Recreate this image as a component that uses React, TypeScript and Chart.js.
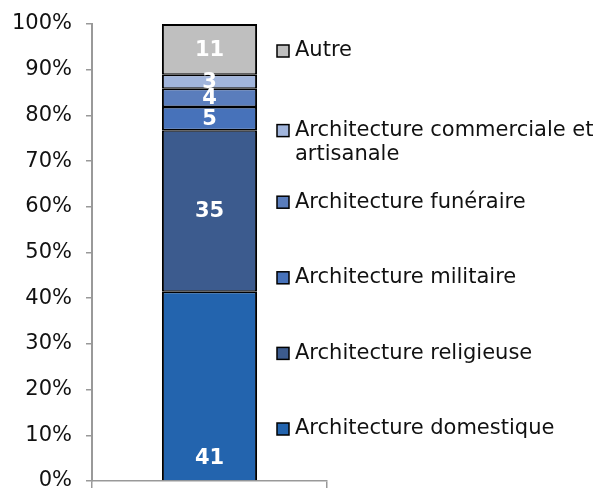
import React, { useEffect, useRef } from "react";
import { Chart, registerables } from "chart.js";

Chart.register(...registerables);

const categories = [""];
const seriesNames = [
  "Architecture domestique",
  "Architecture religieuse",
  "Architecture militaire",
  "Architecture funéraire",
  "Architecture commerciale et artisanale",
  "Autre",
];
const seriesValues = [41, 35, 5, 4, 3, 11];
const seriesColors = ["#2364AE", "#3C5B8E", "#4772BA", "#5A7DBC", "#A1B5DC", "#BFBFBF"];
const labelPlacement = ["base", "center", "center", "center", "center", "center"];
const yTicks = [0, 10, 20, 30, 40, 50, 60, 70, 80, 90, 100];

const FONT = "'DejaVu Sans', Verdana, sans-serif";

const total = seriesValues.reduce((a, b) => a + b, 0);

const dataLabelPlugin = {
  id: "dataLabels",
  afterDatasetsDraw(chart: any) {
    const ctx = chart.ctx;
    ctx.save();
    ctx.font = `bold 21px ${FONT}`;
    ctx.fillStyle = "#ffffff";
    ctx.textAlign = "center";
    ctx.textBaseline = "middle";
    chart.data.datasets.forEach((ds: any, i: number) => {
      const meta = chart.getDatasetMeta(i);
      meta.data.forEach((el: any) => {
        const p = el.getProps(["x", "y", "base"], true);
        const y = labelPlacement[i] === "base" ? p.base - 22 : (p.y + p.base) / 2 + 1;
        ctx.fillText(String(ds.rawValue), p.x, y);
      });
    });
    ctx.restore();
  },
};

const legendPlugin = {
  id: "customLegend",
  afterDraw(chart: any) {
    const ctx = chart.ctx;
    const area = chart.chartArea;
    ctx.save();
    ctx.font = `21px ${FONT}`;
    ctx.textBaseline = "middle";
    ctx.textAlign = "left";
    const boxX = 277;
    const textX = 295;
    const maxW = 598 - textX - 2;
    const firstY = area.top + 27;
    const lastY = area.bottom - 52;
    const n = chart.data.datasets.length;
    const step = (lastY - firstY) / (n - 1);
    const ordered = chart.data.datasets.map((d: any, i: number) => i).reverse();
    ordered.forEach((dsIndex: number, k: number) => {
      const ds = chart.data.datasets[dsIndex];
      const words = String(ds.label).split(" ");
      const lines: string[] = [];
      let cur = "";
      words.forEach((w) => {
        const t = cur ? cur + " " + w : w;
        if (ctx.measureText(t).width > maxW && cur) {
          lines.push(cur);
          cur = w;
        } else cur = t;
      });
      if (cur) lines.push(cur);
      const y = firstY + k * step + (lines.length - 1) * 4;
      ctx.fillStyle = ds.backgroundColor;
      ctx.fillRect(boxX, y - 6, 12, 12);
      ctx.strokeStyle = "#000";
      ctx.lineWidth = 1.5;
      ctx.strokeRect(boxX, y - 6, 12, 12);
      ctx.fillStyle = "#111";
      lines.forEach((l, j) => ctx.fillText(l, textX, y + j * 24));
    });
    ctx.restore();
  },
};

export default function App() {
  const ref = useRef<HTMLCanvasElement>(null);
  useEffect(() => {
    document.body.style.margin = "0";
    document.body.style.overflow = "hidden";
    const datasets = seriesNames.map((name, i) => ({
      label: name,
      rawValue: seriesValues[i],
      data: [(seriesValues[i] / total) * 100],
      backgroundColor: seriesColors[i],
      borderColor: "#000",
      borderWidth: {
        left: 2,
        right: 2,
        top: i === seriesNames.length - 1 ? 2 : 1.5,
        bottom: i === 0 ? 0 : 1.5,
      },
      borderSkipped: false,
      barPercentage: 0.405,
      categoryPercentage: 1,
    }));
    const chart = new Chart(ref.current!, {
      type: "bar",
      data: { labels: categories, datasets },
      options: {
        animation: false,
        responsive: false,
        maintainAspectRatio: false,
        layout: { padding: { top: 24, right: 271, bottom: 0, left: 0 } },
        plugins: { legend: { display: false }, tooltip: { enabled: false } },
        scales: {
          x: {
            stacked: true,
            grid: { display: true, drawOnChartArea: false, tickLength: 8, color: "#999", lineWidth: 1.5, offset: true },
            border: { display: true, color: "#999", width: 1.5 },
            ticks: { display: false },
            afterFit(s: any) {
              s.height = 7;
              s.paddingLeft = 0;
              s.paddingRight = 0;
            },
          },
          y: {
            stacked: true,
            min: 0,
            max: 100,
            afterBuildTicks(s: any) {
              s.ticks = yTicks.map((v) => ({ value: v }));
            },
            ticks: {
              callback: (v: any) => v + "%",
              font: { family: FONT, size: 21 },
              color: "#111",
              padding: 14,
            },
            grid: { drawOnChartArea: false, tickLength: 6, color: "#999", lineWidth: 1.5 },
            border: { display: true, color: "#999", width: 2 },
            afterFit(s: any) {
              s.width = 92;
              s.paddingTop = 0;
              s.paddingBottom = 0;
            },
          },
        },
      },
      plugins: [dataLabelPlugin, legendPlugin],
    } as any);
    return () => chart.destroy();
  }, []);
  return (
    <div style={{ position: "fixed", left: 0, top: 0, width: 598, height: 488 }}>
      <canvas ref={ref} width={598} height={488} style={{ width: 598, height: 488 }} />
    </div>
  );
}
